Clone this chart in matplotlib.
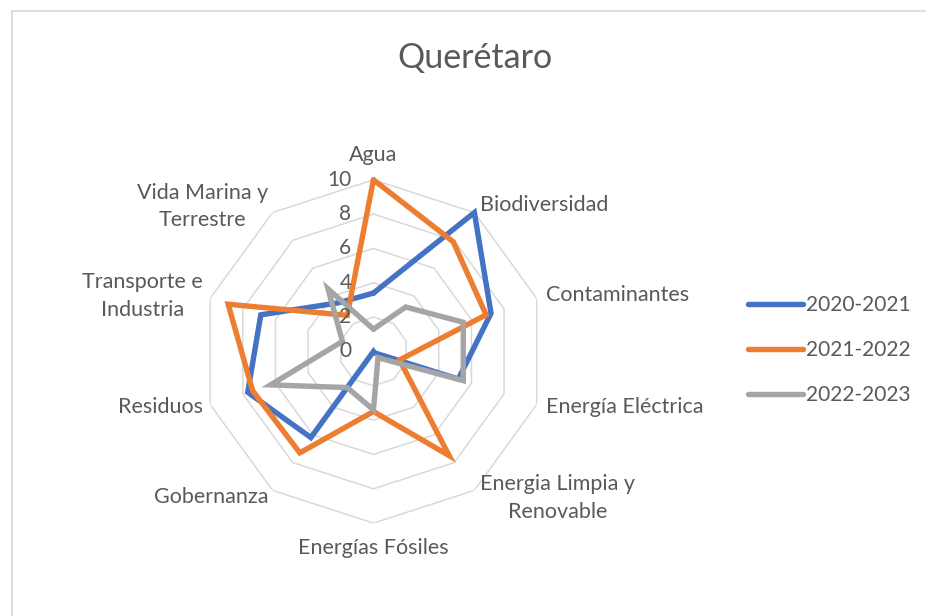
import numpy as np
import matplotlib
matplotlib.use("Agg")
import matplotlib.pyplot as plt
from matplotlib.lines import Line2D
from matplotlib.transforms import offset_copy

plt.rcParams['font.family'] = ['Lato', 'DejaVu Sans']

categories = ['Agua', 'Biodiversidad', 'Contaminantes', 'Energía Eléctrica',
              'Energia Limpia y\nRenovable', 'Energías Fósiles', 'Gobernanza',
              'Residuos', 'Transporte e\nIndustria', 'Vida Marina y\nTerrestre']
series_names = ['2020-2021', '2021-2022', '2022-2023']
v2020 = [3.4, 10, 7.2, 5.2, 0.1, 0.0, 6.2, 7.7, 6.9, 3.5]
v2021 = [10, 7.9, 6.9, 1.6, 7.5, 3.5, 7.3, 7.4, 8.9, 2.6]
v2022 = [1.3, 3.2, 5.5, 5.5, 0.45, 3.4, 2.6, 6.3, 1.9, 4.5]
ticks = [0, 2, 4, 6, 8, 10]

colors = ['#4472C4', '#ED7D31', '#A5A5A5']
text_col = '#595959'
grid_col = '#D9D9D9'

n = len(categories)
theta = np.arange(n) * 2 * np.pi / n
theta_c = np.append(theta, theta[0])

fig = plt.figure(figsize=(9.26, 6.16), dpi=100)
ax = fig.add_axes([0.2179, 0.1507, 0.3708, 0.5575], projection='polar')
ax.set_theta_zero_location('N')
ax.set_theta_direction(-1)
ax.set_ylim(0, 10)
ax.grid(False)
ax.spines['polar'].set_visible(False)
ax.set_xticks([])
ax.set_yticks([])
ax.patch.set_alpha(0)

# polygon rings like Excel
for t in ticks[1:]:
    ax.plot(theta_c, [t] * (n + 1), color=grid_col, lw=1.1, zorder=1)

for vals, c, name in zip([v2020, v2021, v2022], colors, series_names):
    ax.plot(theta_c, vals + vals[:1], color=c, lw=3.9, label=name,
            solid_joinstyle='miter', solid_capstyle='round', zorder=3, clip_on=False)

tr = offset_copy(ax.transData, fig=fig, x=-22, y=0, units='dots')
for t in ticks:
    ax.text(0, t, str(t), transform=tr, ha='right', va='center',
            fontsize=15, color=text_col, zorder=4)

fs = 15.5
for i, lab in enumerate(categories):
    ang = np.degrees(theta[i])
    if ang == 0 or ang == 180:
        ax.text(theta[i], 11.45, lab, ha='center', va='center',
                fontsize=fs, color=text_col)
    elif ang < 180:
        ax.text(theta[i], 10.55, lab, ha='left', va='center', linespacing=1.45,
                multialignment='center', fontsize=fs, color=text_col)
    else:
        ax.text(theta[i], 10.45, lab, ha='right', va='center', linespacing=1.45,
                multialignment='center', fontsize=fs, color=text_col)

fig.text(0.513, 0.906, 'Querétaro', ha='center', va='center',
         fontsize=24.5, color=text_col)

leg = fig.legend(loc='center left', bbox_to_anchor=(748 / 926, 1 - 350 / 616),
                 frameon=False, fontsize=15, labelcolor=text_col,
                 handlelength=2.65, handletextpad=0.15, labelspacing=1.2,
                 borderpad=0, borderaxespad=0)

# chart area border (top and left visible)
fig.add_artist(Line2D([11.5 / 926, 1], [1 - 10.5 / 616, 1 - 10.5 / 616],
                      transform=fig.transFigure, color=grid_col, lw=1.2))
fig.add_artist(Line2D([11.5 / 926, 11.5 / 926], [0, 1 - 10.5 / 616],
                      transform=fig.transFigure, color=grid_col, lw=1.2))

fig.savefig('out.png', dpi=100)
